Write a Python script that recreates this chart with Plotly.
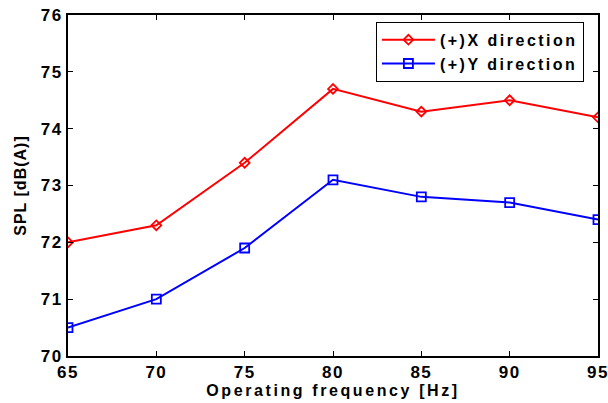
import plotly.graph_objects as go

freq = [65, 70, 75, 80, 85, 90, 95]
spl_x = [72.0, 72.3, 73.4, 74.7, 74.3, 74.5, 74.2]
spl_y = [70.5, 71.0, 71.9, 73.1, 72.8, 72.7, 72.4]
y_ticks = [70, 71, 72, 73, 74, 75, 76]
series_names = ["(+)X direction", "(+)Y direction"]

font_family = "Liberation Sans, Arial, sans-serif"


def spaced(text, px):
    """Wrap text in a span with extra letter spacing."""
    return f'<span style="letter-spacing:{px}px">{text}</span>'


fig = go.Figure()
fig.add_trace(go.Scatter(
    x=freq, y=spl_x, mode="lines+markers", name=spaced(series_names[0], 2.5),
    line=dict(color="#ff0000", width=2),
    marker=dict(symbol="diamond-open", size=7.5, color="#ff0000", line=dict(width=1.8)),
))
fig.add_trace(go.Scatter(
    x=freq, y=spl_y, mode="lines+markers", name=spaced(series_names[1], 2.5),
    line=dict(color="#0000ff", width=2),
    marker=dict(symbol="square-open", size=9, color="#0000ff", line=dict(width=1.8)),
))

tick_font = dict(family=font_family, size=17, color="black", weight="bold")
axis_common = dict(
    showgrid=False, zeroline=False, automargin=False,
    showline=True, linecolor="black", linewidth=2, mirror="ticks",
    ticks="inside", ticklen=5, tickwidth=1, tickcolor="black",
    tickfont=tick_font, ticklabeloverflow="allow",
)

fig.update_layout(
    width=608, height=403,
    margin=dict(l=68, r=10, t=15, b=47),
    paper_bgcolor="white", plot_bgcolor="white",
    xaxis=dict(range=[65, 95], tickvals=freq,
               ticktext=[spaced(str(v), 1.5) for v in freq],
               title=dict(text=spaced("Operating frequency [Hz]", 2.6), standoff=3,
                          font=dict(family=font_family, size=16, color="black", weight="bold")),
               **axis_common),
    yaxis=dict(range=[70, 76], tickvals=y_ticks,
               ticktext=[spaced(str(v), 1.5) for v in y_ticks],
               title=dict(text=spaced("SPL [dB(A)]", 1), standoff=10,
                          font=dict(family=font_family, size=16, color="black", weight="bold")),
               **axis_common),
    legend=dict(
        x=0.581, y=0.98, xanchor="left", yanchor="top",
        bgcolor="white", bordercolor="black", borderwidth=1,
        font=dict(family=font_family, size=16, color="black", weight="bold"),
        tracegroupgap=0, itemwidth=53,
    ),
    showlegend=True,
)

fig.write_html("out.html")
